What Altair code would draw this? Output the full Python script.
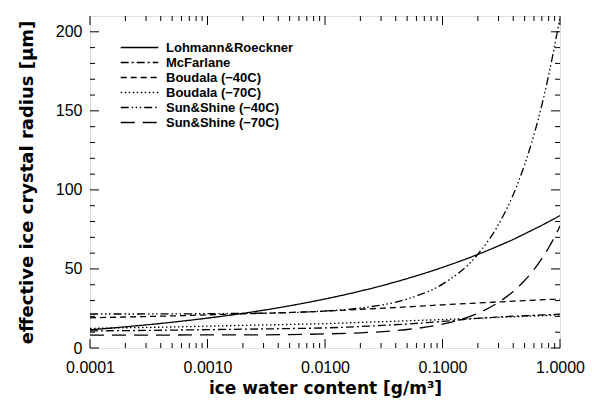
import altair as alt
import pandas as pd

# ice water content grid [g/m^3]
iwc = [0.0001, 0.0002, 0.0005, 0.001, 0.002, 0.005, 0.01, 0.02, 0.05,
       0.1, 0.2, 0.3, 0.4, 0.5, 0.6, 0.7, 0.8, 0.9, 1.0]

# effective ice crystal radius [um]
lohmann = [11.5, 13.4, 16.3, 18.9, 21.9, 26.7, 31.0, 36.0, 43.9,
           51.0, 59.2, 64.6, 68.7, 72.2, 75.1, 77.6, 79.9, 81.9, 83.8]
mcfarlane = [10.8, 11.0, 11.3, 11.6, 11.9, 12.3, 12.7, 13.6, 15.2,
             16.8, 18.8, 19.6, 20.1, 20.4, 20.7, 20.9, 21.1, 21.3, 21.4]
boudala40 = [19.1, 19.6, 20.3, 21.0, 21.6, 22.5, 23.3, 24.5, 26.0,
             27.3, 28.5, 29.2, 29.6, 30.0, 30.2, 30.5, 30.7, 30.8, 30.9]
boudala70 = [12.4, 12.8, 13.3, 13.8, 14.3, 14.9, 15.4, 16.2, 17.2,
             18.0, 18.8, 19.4, 19.7, 20.0, 20.2, 20.4, 20.6, 20.8, 20.9]
sunshine40 = [21.5, 21.5, 21.6, 21.7, 21.9, 22.4, 23.4, 25.3, 31.0,
              40.4, 59.3, 78.2, 97.0, 116.0, 134.8, 153.6, 172.4, 191.2, 209.0]
sunshine70 = [8.2, 8.2, 8.2, 8.3, 8.3, 8.5, 8.9, 9.6, 11.7,
              15.1, 22.0, 28.9, 35.8, 42.7, 49.6, 56.5, 63.4, 70.3, 77.2]

names = ["Lohmann&Roeckner", "McFarlane", "Boudala (\u221240C)", "Boudala (\u221270C)",
         "Sun&Shine (\u221240C)", "Sun&Shine (\u221270C)"]
series = [lohmann, mcfarlane, boudala40, boudala70, sunshine40, sunshine70]
dashes = [[1, 0], [8, 3, 2, 3], [6, 4], [1.5, 2.5], [8, 3, 1.5, 2.5, 1.5, 2.5, 1.5, 3], [14, 8]]

x_major = [0.0001, 0.001, 0.01, 0.1, 1.0]
x_mant = [2, 3, 4, 5, 6, 7, 8, 9]
x_minor = [m * d for d in [0.0001, 0.001, 0.01, 0.1] for m in x_mant]
y_major = [0, 50, 100, 150, 200]
y_minor = [10, 20, 30, 40, 60, 70, 80, 90, 110, 120, 130, 140, 160, 170, 180, 190]

rows = []
for n, vals in zip(names, series):
    for xv, yv in zip(iwc, vals):
        rows.append({"iwc": xv, "r": yv, "model": n})
df = pd.DataFrame(rows)

W, H = 470, 332
FONT = "Liberation Sans"
TFONT = "DejaVu Sans"
xs = alt.Scale(type="log", domain=[0.0001, 1.0], nice=False)
ys = alt.Scale(domain=[0, 210], nice=False, zero=True)

lines = alt.Chart(df).mark_line(color="black", strokeWidth=1.3, clip=True,
                                interpolate="monotone").encode(
    x=alt.X("iwc:Q", scale=xs,
            axis=alt.Axis(values=x_major, format=".4f", title="ice water content [g/m\u00b3]",
                          ticks=False, domain=False, grid=False, labelFontSize=16,
                          labelFont=FONT, labelColor="black", labelPadding=11,
                          titleFont=TFONT, titleFontSize=17, titleFontWeight=600,
                          titleColor="black", titlePadding=5, labelFlush=False)),
    y=alt.Y("r:Q", scale=ys,
            axis=alt.Axis(values=y_major, title="effective ice crystal radius [\u03bcm]",
                          ticks=False, domain=False, grid=False, labelFontSize=16,
                          labelFont=FONT, labelColor="black", labelPadding=8,
                          titleFont=TFONT, titleFontSize=18, titleFontWeight=600,
                          titleColor="black", titlePadding=19, labelFlush=False)),
    strokeDash=alt.StrokeDash("model:N", sort=names,
                              scale=alt.Scale(domain=names, range=dashes),
                              legend=alt.Legend(title=None, orient="none", legendX=43, legendY=25,
                                                symbolType="M-3.3,0H3.3", symbolSize=130,
                                                symbolStrokeColor="black", symbolStrokeWidth=1.3,
                                                symbolFillColor="transparent",
                                                labelFont=FONT, labelFontSize=13,
                                                labelFontWeight="bold", labelColor="black",
                                                labelOffset=20, rowPadding=1, padding=0)),
)


def xticks(vals, length, top):
    d = pd.DataFrame({"iwc": vals})
    if top:
        yy, yy2 = alt.value(0), alt.value(length)
    else:
        yy, yy2 = alt.value(H), alt.value(H - length)
    return alt.Chart(d).mark_rule(color="black", strokeWidth=1).encode(
        x=alt.X("iwc:Q", scale=xs), y=yy, y2=yy2)


def yticks(vals, length, right):
    d = pd.DataFrame({"r": vals})
    if right:
        xx, xx2 = alt.value(W), alt.value(W - length)
    else:
        xx, xx2 = alt.value(0), alt.value(length)
    return alt.Chart(d).mark_rule(color="black", strokeWidth=1).encode(
        y=alt.Y("r:Q", scale=ys), x=xx, x2=xx2)


chart = alt.layer(
    lines,
    xticks(x_major, 9, False), xticks(x_major, 9, True),
    xticks(x_minor, 5, False), xticks(x_minor, 5, True),
    yticks(y_major, 9, False), yticks(y_major, 9, True),
    yticks(y_minor, 5, False), yticks(y_minor, 5, True),
).properties(
    width=W, height=H,
    autosize=alt.AutoSizeParams(type="none"),
    padding={"left": 82, "top": 8, "right": 25, "bottom": 51},
).configure_view(
    stroke="black", strokeWidth=1.5
).configure(background="white")

chart.save("out.html", embed_options={"renderer": "svg", "actions": False})
